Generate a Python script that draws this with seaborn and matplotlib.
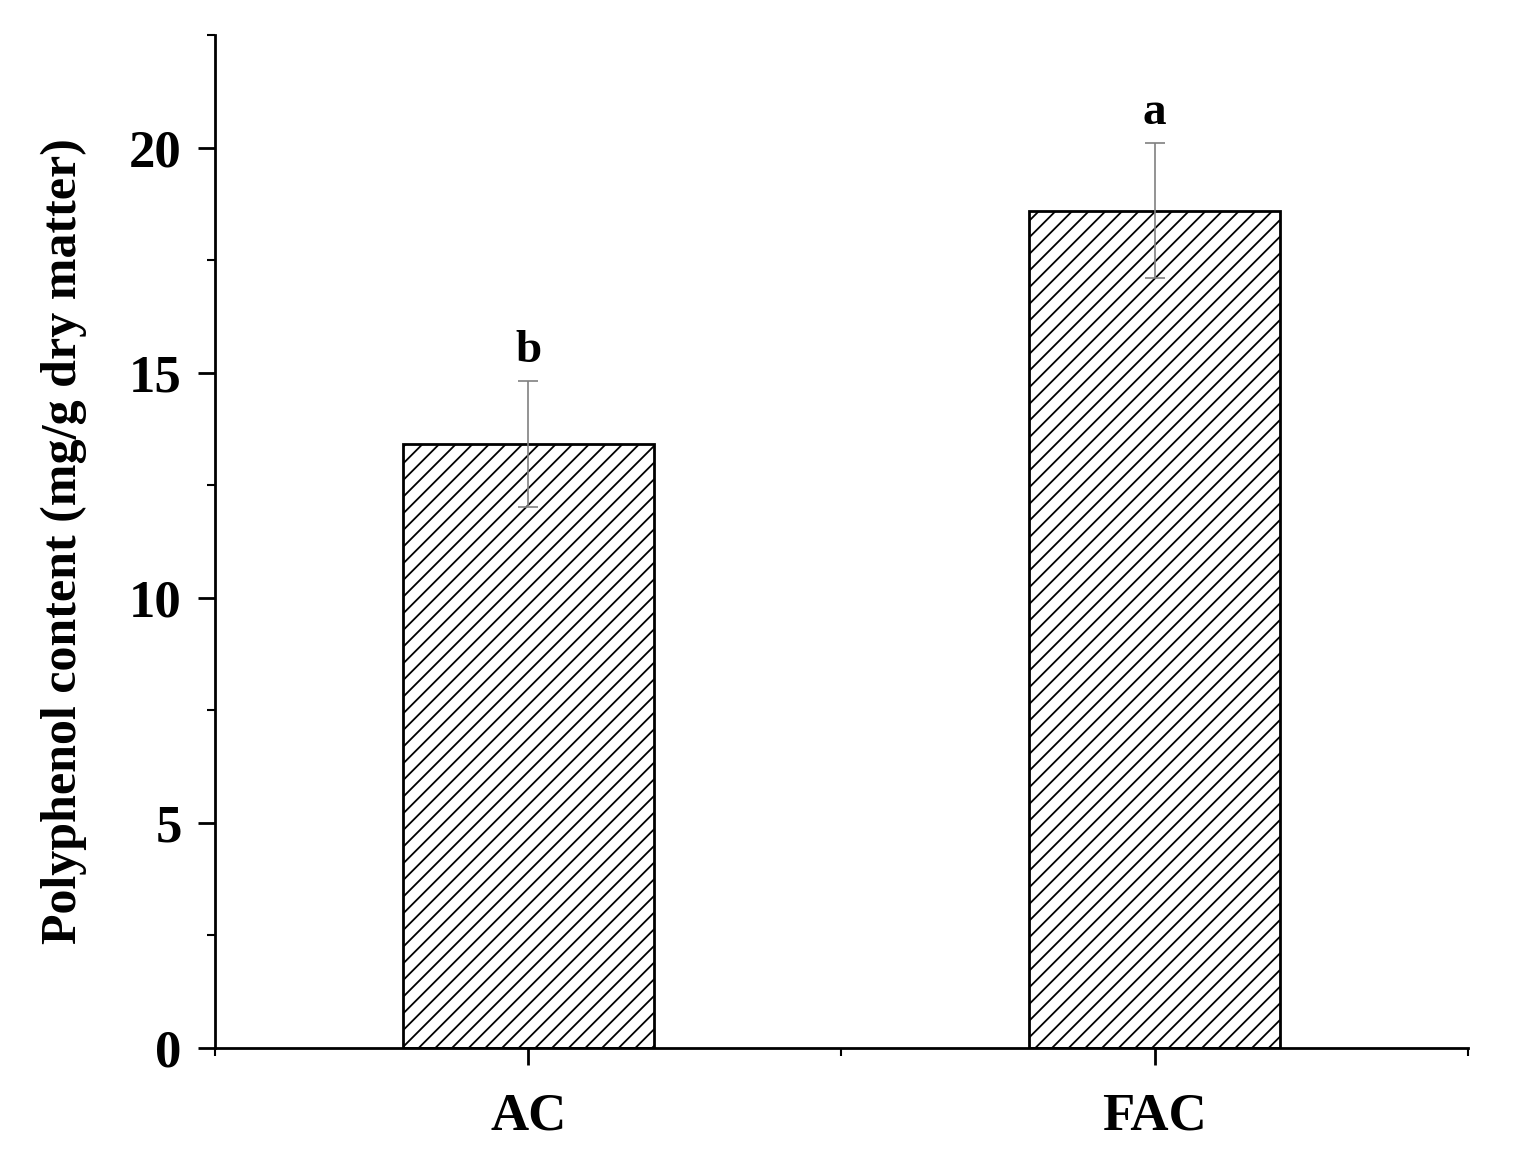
import matplotlib
matplotlib.use("Agg")
import matplotlib.pyplot as plt
import seaborn as sns
import pandas as pd
from matplotlib.ticker import MultipleLocator

sns.set_style("ticks")
plt.rcParams["font.family"] = ["Liberation Serif", "DejaVu Serif"]
plt.rcParams["hatch.linewidth"] = 1.3
plt.rcParams["text.color"] = "black"
plt.rcParams["axes.labelcolor"] = "black"
plt.rcParams["xtick.color"] = "black"
plt.rcParams["ytick.color"] = "black"
plt.rcParams["axes.edgecolor"] = "black"

groups = ["AC", "FAC"]
means = [13.42, 18.6]
errs = [1.4, 1.5]
letters = ["b", "a"]

df = pd.DataFrame({"group": groups, "value": means})

fig = plt.figure(figsize=(15.36, 11.7), dpi=100)
ax = fig.add_axes([0.14, 0.1043, 0.8157, 0.8657])

sns.barplot(data=df, x="group", y="value", ax=ax, width=0.4, color="white",
            edgecolor="black", linewidth=2, errorbar=None)
for p in ax.patches:
    p.set_hatch("//")
ax.errorbar(range(len(groups)), means, yerr=errs, fmt="none", ecolor="gray",
            elinewidth=1.2, capsize=7, capthick=1.2)
for i, (m, e, l) in enumerate(zip(means, errs, letters)):
    ax.text(i, m + e + 0.2, l, ha="center", va="bottom", fontsize=34, fontweight="bold")

ax.set_xlim(-0.5, 1.5)
ax.set_ylim(0, 22.5)
ax.yaxis.set_major_locator(MultipleLocator(5))
ax.yaxis.set_minor_locator(MultipleLocator(2.5))
ax.xaxis.set_minor_locator(MultipleLocator(0.5))
ax.tick_params(axis="both", which="major", direction="out", length=12, width=2,
               labelsize=38)
ax.tick_params(axis="x", which="major", pad=20)
ax.tick_params(axis="y", which="major", pad=12)
ax.tick_params(axis="both", which="minor", direction="out", length=6, width=1.5)
for lab in ax.get_xticklabels() + ax.get_yticklabels():
    lab.set_fontweight("bold")
ax.set_xlabel("")
ax.set_ylabel("Polyphenol content (mg/g dry matter)", fontsize=36, fontweight="bold",
              labelpad=30)
sns.despine(ax=ax)
for s in ["left", "bottom"]:
    ax.spines[s].set_linewidth(2)

fig.savefig("out.png", dpi=100)
